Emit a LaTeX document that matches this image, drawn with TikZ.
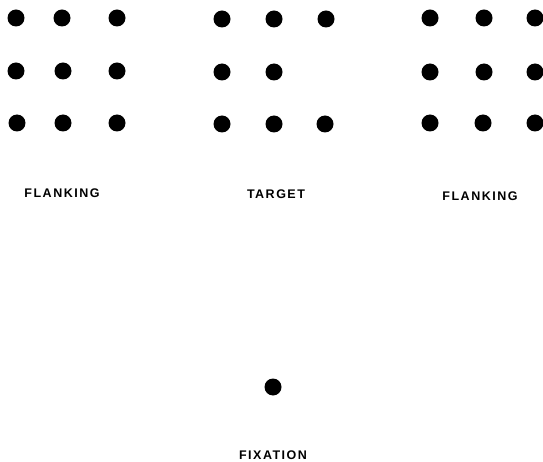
\documentclass[tikz,border=0pt]{standalone}
\usepackage{fontspec}
\newfontfamily\labfont{Liberation Sans}[LetterSpace=12]
\usepackage{tikz}
\usetikzlibrary{positioning}

\begin{document}
\begin{tikzpicture}[x=1pt,y=-1pt,
  dot/.style={circle,fill=black,inner sep=0pt,minimum size=17pt},
  lab/.style={inner sep=0pt,font=\fontsize{12.5}{14}\labfont\bfseries}]
\useasboundingbox (0,0) rectangle (543,462);

% left flanking array
\node[dot] (l11) at (16,18) {};
\node[dot] (l12) at (62,18) {};
\node[dot] (l13) at (117,18) {};
\node[dot] (l21) at (16,71) {};
\node[dot] (l22) at (63,71) {};
\node[dot] (l23) at (117,71) {};
\node[dot] (l31) at (17,123) {};
\node[dot] (l32) at (63,123) {};
\node[dot] (l33) at (117,123) {};

% target array
\node[dot] (t11) at (222,19) {};
\node[dot] (t12) at (274,19) {};
\node[dot] (t13) at (326,19) {};
\node[dot] (t21) at (222,72) {};
\node[dot] (t22) at (274,72) {};
\node[dot] (t31) at (222,124) {};
\node[dot] (t32) at (274,124) {};
\node[dot] (t33) at (325,124) {};

% right flanking array
\node[dot] (r11) at (430,18) {};
\node[dot] (r12) at (484,18) {};
\node[dot] (r13) at (535,18) {};
\node[dot] (r21) at (430,72) {};
\node[dot] (r22) at (484,72) {};
\node[dot] (r23) at (535,72) {};
\node[dot] (r31) at (430,123) {};
\node[dot] (r32) at (483,123) {};
\node[dot] (r33) at (535,123) {};

% fixation point
\node[dot] (fix) at (273,387) {};

% labels
\node[lab] (flankl) at (62,193) {FLANKING};
\node[lab] (target) at (276,194) {TARGET};
\node[lab] (flankr) at (480,196) {FLANKING};
\node[lab] (fixlab) at (273,455) {FIXATION};
\end{tikzpicture}
\end{document}
